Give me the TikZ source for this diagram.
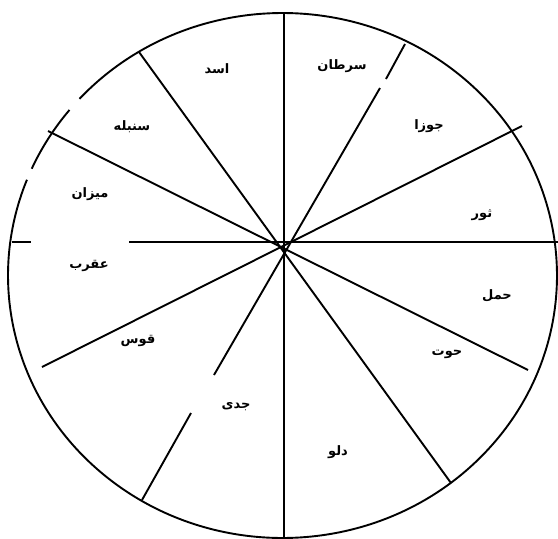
\documentclass[tikz,border=0pt]{standalone}
\usepackage{fontspec}
\newfontfamily\arabicfont[Script=Arabic]{DejaVu Sans}
\TeXXeTstate=1

\begin{document}
\begin{tikzpicture}[
    x=1pt, y=-1pt,
    rim/.style={line width=1.9pt},
    spoke/.style={line width=1.9pt},
    sign/.style={inner sep=0pt, font=\arabicfont\bfseries\fontsize{13}{15}\selectfont}
]
    \useasboundingbox (0,0) rectangle (558,539);

    % Outer circle (two small breaks on the upper left)
    \coordinate (O) at (282.5,275.5);
    \draw[rim] (O) ++(204:274.5 and 262.5) arc[start angle=204, end angle=219.1, x radius=274.5, y radius=262.5];
    \draw[rim] (O) ++(222.3:274.5 and 262.5) arc[start angle=222.3, end angle=561.4, x radius=274.5, y radius=262.5];

    % Dividing lines
    \draw[spoke] (284,13) -- (284,539);
    \draw[spoke] (12,242) -- (31,242);
    \draw[spoke] (129,242) -- (558,242);
    \draw[spoke] (139,52) -- (451,483);
    \draw[spoke] (48,131) -- (528,370);
    \draw[spoke] (522,126) -- (42,367);
    \draw[spoke] (405,44) -- (386,79);
    \draw[spoke] (380,88) -- (214,375);
    \draw[spoke] (191,413) -- (142,500);

    % Signs
    \node[sign] (asad)    at (217,69)  {\beginR اسد\endR};
    \node[sign] (saratan) at (342,66)  {\beginR سرطان\endR};
    \node[sign] (jowza)   at (429,126) {\beginR جوزا\endR};
    \node[sign] (sowr)    at (482,215) {\beginR ثور\endR};
    \node[sign] (hamal)   at (497,296) {\beginR حمل\endR};
    \node[sign] (hut)     at (447,354) {\beginR حوت\endR};
    \node[sign] (dalv)    at (338,452) {\beginR دلو\endR};
    \node[sign] (jadi)    at (236,407) {\beginR جدی\endR};
    \node[sign] (qows)    at (138,341) {\beginR قوس\endR};
    \node[sign] (aqrab)   at (89,266)  {\beginR عقرب\endR};
    \node[sign] (mizan)   at (90,194)  {\beginR میزان\endR};
    \node[sign] (sonbole) at (132,127) {\beginR سنبله\endR};

\end{tikzpicture}
\end{document}
